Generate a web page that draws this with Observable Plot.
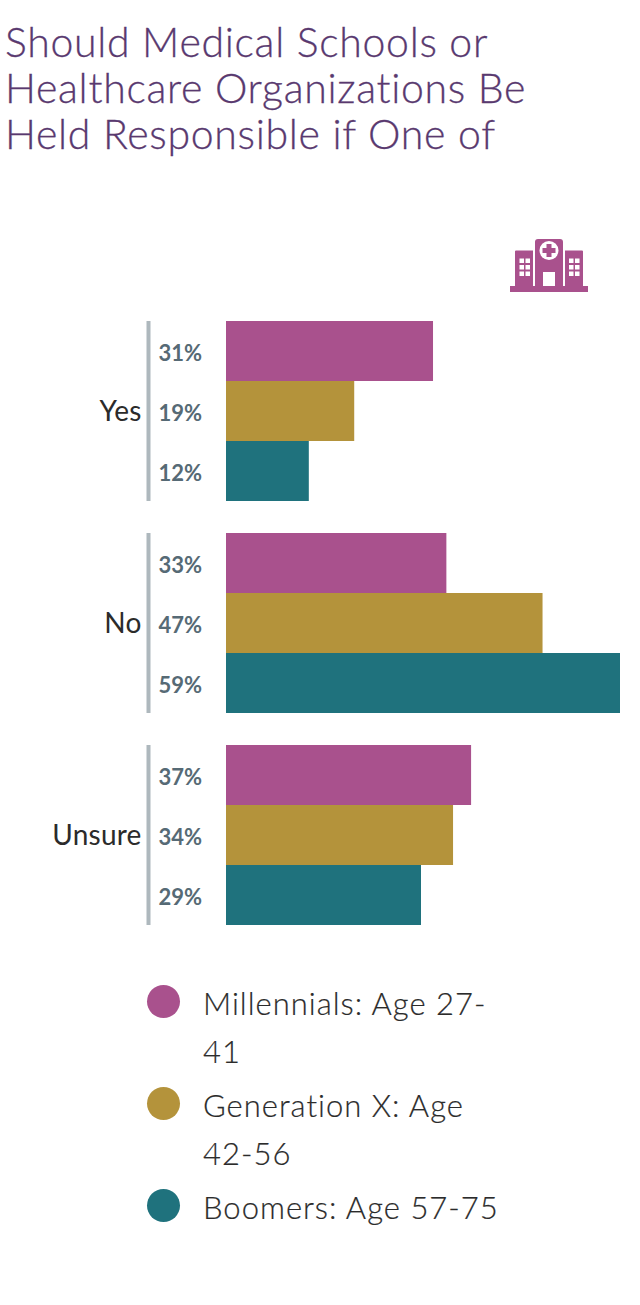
<!DOCTYPE html>
<html><head><meta charset="utf-8">
<script src="https://cdn.jsdelivr.net/npm/d3@7"></script>
<script src="https://cdn.jsdelivr.net/npm/@observablehq/plot@0.6"></script>
<style>
html,body{margin:0;padding:0;background:#fff;}
#page{position:relative;width:640px;height:1305px;overflow:hidden;font-family:Lato,sans-serif;font-variant-ligatures:none;}
h1{position:absolute;left:5px;top:19px;margin:0;width:620px;font-weight:300;font-size:41px;line-height:46px;letter-spacing:0.7px;color:#59396f;-webkit-text-stroke:0.3px #59396f;}
#icon{position:absolute;left:510px;top:239px;}
#chart{position:absolute;left:0;top:321px;}
#chart svg{display:block;}
#legend{position:absolute;left:147px;top:980px;width:360px;}
.item{display:flex;align-items:flex-start;margin-bottom:6px;}
.dot{width:33px;height:33px;border-radius:50%;flex:none;margin-top:5px;margin-right:23px;}
.lab{width:302px;font-size:31px;line-height:48px;margin-top:-1px;margin-bottom:1px;font-weight:300;letter-spacing:1px;color:#2b2b2b;-webkit-text-stroke:0.2px #2b2b2b;}
</style></head>
<body><div id="page">
<h1 id="title"></h1>
<svg id="icon" width="78" height="54" viewBox="0 0 78 54">
<path fill="#a9518d" d="M0 47H78V53H0ZM5 12.500a1 1 0 0 1 1-1H23V47H5ZM25 3a3 3 0 0 1 3-3H50a3 3 0 0 1 3 3V47H25ZM55 11.500H72a1 1 0 0 1 1 1V47H55Z"/>
<circle cx="39" cy="11.500" r="9.500" fill="#fff"/>
<path fill="#a9518d" d="M36.500 5H41.500V9H45.500V14H41.500V18H36.500V14H32.500V9H36.500Z"/>
<path fill="#fff" d="M33 33H45V47H33ZM9.500 19.500h4.500v4.500h-4.500ZM15.500 19.500h4.500v4.500h-4.500ZM9.500 26h4.500v4.500h-4.500ZM15.500 26h4.500v4.500h-4.500ZM9.500 32.500h4.500v4.500h-4.500ZM15.500 32.500h4.500v4.500h-4.500ZM59 19.500h4.500v4.500h-4.500ZM65 19.500h4.500v4.500h-4.500ZM59 26h4.500v4.500h-4.500ZM65 26h4.500v4.500h-4.500ZM59 32.500h4.500v4.500h-4.500ZM65 32.500h4.500v4.500h-4.500Z"/>
</svg>
<div id="chart"></div>
<div id="legend"></div>
</div>
<script>
const titleLines = ["Should Medical Schools or", "Healthcare Organizations Be", "Held Responsible if One of"];
const answers = ["Yes", "No", "Unsure"];
const generations = ["Millennials: Age 27-41", "Generation X: Age 42-56", "Boomers: Age 57-75"];
const colors = ["#a9518d", "#b4933b", "#1f727d"];
const millennials = [31, 33, 36.7];
const genX = [19.2, 47.4, 34];
const boomers = [12.4, 59, 29.2];

document.getElementById("title").innerHTML = titleLines.join("<br>");

const series = [millennials, genX, boomers];
const rows = answers.flatMap((a, i) => generations.map((g, j) => ({answer: a, generation: g, value: series[j][i]})));

const chart = Plot.plot({
  width: 640, height: 604,
  marginTop: 0, marginBottom: 0, marginLeft: 226, marginRight: 20,
  x: {domain: [0, 59], axis: null},
  y: {domain: generations, padding: 0, axis: null},
  fy: {domain: answers, paddingInner: 32/212, paddingOuter: 0, axis: null},
  color: {domain: generations, range: colors},
  style: {background: "transparent", fontFamily: "Lato, sans-serif"},
  marks: [
    Plot.barX(rows, {x: "value", y: "generation", fy: "answer", fill: "generation"}),
    Plot.ruleX([0], {dx: -78, stroke: "#aeb8bd", strokeWidth: 4}),
    Plot.text(rows, {x: 0, y: "generation", fy: "answer", text: d => Math.round(d.value) + "%", dx: -68, dy: 2, textAnchor: "start", fontSize: 22, fontWeight: 700, letterSpacing: "1px", fill: "#566a75"}),
    Plot.axisFy({anchor: "left", tickSize: 0, tickPadding: 85, dy: 1, fontSize: 28, color: "#2b2b2b", label: null})
  ]
});
document.getElementById("chart").append(chart);
chart.querySelectorAll("text").forEach(t => { if (answers.includes(t.textContent)) t.style.letterSpacing = "0.2px"; });

const legend = d3.select("#legend").selectAll("div").data(generations).join("div").attr("class", "item");
legend.append("div").attr("class", "dot").style("background", (d, i) => colors[i]);
legend.append("div").attr("class", "lab").text(d => d);
</script>
</body></html>
